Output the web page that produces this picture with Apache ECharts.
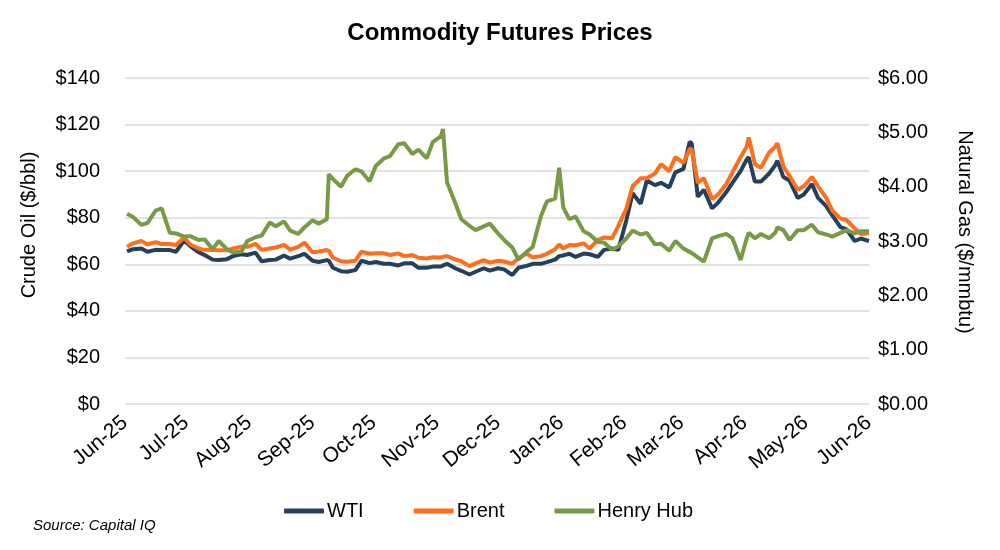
<!DOCTYPE html>
<html>
<head>
<meta charset="UTF-8">
<title>Commodity Futures Prices</title>
<script src="https://cdn.jsdelivr.net/npm/echarts@6/dist/echarts.min.js"></script>
<style>
    html, body { margin: 0; padding: 0; background: #fff; }
    #main { width: 1000px; height: 550px; }
</style>
</head>
<body>
<div id="main"></div>
<script type="text/javascript">
    // twice-weekly readings of the futures curves (plus a few extra days on the spikes)
    var dates = [
        '2025-06-02', '2025-06-05', '2025-06-09', '2025-06-12', '2025-06-16', '2025-06-19', '2025-06-23', '2025-06-26', '2025-06-30',
        '2025-07-03', '2025-07-07', '2025-07-10', '2025-07-14', '2025-07-17', '2025-07-21', '2025-07-24', '2025-07-28', '2025-07-31',
        '2025-08-04', '2025-08-07', '2025-08-11', '2025-08-14', '2025-08-18', '2025-08-21', '2025-08-25', '2025-08-28',
        '2025-09-01', '2025-09-04', '2025-09-08', '2025-09-09', '2025-09-11', '2025-09-15', '2025-09-18', '2025-09-22', '2025-09-25', '2025-09-29',
        '2025-10-02', '2025-10-06', '2025-10-09', '2025-10-13', '2025-10-16', '2025-10-20', '2025-10-23', '2025-10-27', '2025-10-30',
        '2025-11-03', '2025-11-04', '2025-11-06', '2025-11-10', '2025-11-13', '2025-11-17', '2025-11-20', '2025-11-24', '2025-11-27',
        '2025-12-01', '2025-12-04', '2025-12-08', '2025-12-11', '2025-12-15', '2025-12-18', '2025-12-22', '2025-12-25', '2025-12-29', '2025-12-31',
        '2026-01-02', '2026-01-05', '2026-01-08', '2026-01-12', '2026-01-15', '2026-01-19', '2026-01-22', '2026-01-26', '2026-01-29',
        '2026-02-02', '2026-02-05', '2026-02-09', '2026-02-12', '2026-02-16', '2026-02-19', '2026-02-23', '2026-02-26',
        '2026-03-02', '2026-03-05', '2026-03-06', '2026-03-09', '2026-03-12', '2026-03-16', '2026-03-19', '2026-03-23', '2026-03-26', '2026-03-30',
        '2026-04-02', '2026-04-03', '2026-04-06', '2026-04-09', '2026-04-13', '2026-04-16', '2026-04-17', '2026-04-20', '2026-04-23', '2026-04-27', '2026-04-30',
        '2026-05-04', '2026-05-07', '2026-05-11', '2026-05-14', '2026-05-18', '2026-05-21', '2026-05-25', '2026-05-28', '2026-06-01'
    ];

    var wti = [
        65.5, 66.5, 66.8, 65.4, 66.2, 66.1, 66.1, 65.4, 70.2,
        67.8, 65.2, 64.0, 62.0, 61.8, 62.2, 63.5, 64.3, 64.0,
        65.0, 61.3, 61.8, 62.0, 63.8, 62.4, 63.5, 64.5,
        61.5, 61.0, 61.8, 61.5, 58.5, 57.0, 56.8, 57.5, 61.5, 60.5,
        61.0, 60.2, 60.2, 59.5, 60.4, 60.4, 58.5, 58.5, 59.0,
        59.0, 59.5, 60.2, 58.3, 57.2, 55.6, 56.8, 58.3, 57.3,
        58.3, 57.8, 55.4, 58.5, 59.3, 60.2, 60.2, 60.9, 62.0, 63.5,
        63.8, 64.5, 63.2, 64.6, 64.3, 63.2, 66.2, 66.8, 66.2,
        79.0, 90.5, 86.0, 96.0, 94.0, 95.0, 93.0, 99.5,
        101.0, 112.5, 112.0, 89.0, 92.0, 84.0, 86.5, 91.0, 95.0, 100.0,
        105.0, 106.0, 95.5, 95.5, 99.0, 102.5, 104.5, 97.5, 96.0, 88.5, 90.0,
        94.5, 88.5, 85.0, 81.0, 76.0, 75.0, 70.0, 71.0, 70.0
    ];

    var brent = [
        67.5, 69.0, 70.0, 68.5, 69.5, 68.7, 68.7, 68.3, 71.5,
        68.5, 66.8, 66.2, 66.1, 66.0, 66.0, 66.8, 67.5, 67.5,
        68.8, 66.2, 66.8, 67.2, 68.3, 66.3, 67.5, 69.3,
        65.2, 65.5, 66.1, 65.8, 62.8, 61.3, 61.1, 61.5, 65.4, 64.5,
        64.7, 64.7, 64.0, 64.7, 63.5, 64.0, 62.8, 62.5, 63.0,
        62.9, 63.2, 63.5, 62.1, 61.3, 59.2, 60.4, 61.8, 60.7,
        61.5, 61.2, 60.2, 62.6, 64.5, 63.0, 63.5, 64.5, 66.5, 68.5,
        66.8, 68.3, 68.2, 69.0, 66.8, 70.5, 71.5, 71.2, 76.5,
        84.0, 93.5, 97.0, 97.0, 99.0, 103.0, 100.0, 106.0,
        103.5, 109.5, 109.5, 95.0, 97.0, 88.0, 90.0, 94.5, 99.5, 106.0,
        110.5, 114.5, 103.0, 101.5, 108.0, 110.5, 112.0, 102.0, 98.0, 92.0, 93.5,
        97.5, 93.5, 88.5, 83.0, 79.7, 79.0, 75.4, 73.0, 73.3
    ];

    var henryHub = [
        3.50, 3.44, 3.30, 3.33, 3.56, 3.60, 3.15, 3.14, 3.08,
        3.09, 3.02, 3.03, 2.85, 3.00, 2.85, 2.79, 2.80, 3.00,
        3.07, 3.10, 3.34, 3.27, 3.36, 3.19, 3.13, 3.25,
        3.38, 3.32, 3.40, 4.23, 4.14, 4.00, 4.20, 4.32, 4.28, 4.10,
        4.38, 4.52, 4.56, 4.78, 4.80, 4.60, 4.68, 4.52, 4.82,
        4.93, 5.06, 4.08, 3.70, 3.40, 3.28, 3.20, 3.27, 3.32,
        3.14, 3.02, 2.88, 2.66, 2.80, 2.89, 3.45, 3.73, 3.78, 4.35,
        3.62, 3.40, 3.45, 3.18, 3.12, 2.98, 2.97, 2.84, 2.90,
        3.05, 3.19, 3.12, 3.15, 2.94, 2.95, 2.82, 3.00,
        2.86, 2.80, 2.78, 2.70, 2.62, 3.05, 3.09, 3.13, 3.05, 2.65,
        3.05, 3.15, 3.05, 3.13, 3.05, 3.15, 3.25, 3.20, 3.02, 3.20, 3.20,
        3.30, 3.16, 3.12, 3.08, 3.15, 3.20, 3.14, 3.18, 3.18
    ];

    var monthTicks = [
        '2025-06-01', '2025-07-01', '2025-08-01', '2025-09-01', '2025-10-01', '2025-11-01', '2025-12-01',
        '2026-01-01', '2026-02-01', '2026-03-01', '2026-04-01', '2026-05-01', '2026-06-01'
    ];
    var monthLabels = ['Jun-25', 'Jul-25', 'Aug-25', 'Sep-25', 'Oct-25', 'Nov-25', 'Dec-25',
        'Jan-26', 'Feb-26', 'Mar-26', 'Apr-26', 'May-26', 'Jun-26'];

    function toTime(s) {
        var p = s.split('-');
        return new Date(+p[0], +p[1] - 1, +p[2]).getTime();
    }

    var tickTimes = monthTicks.map(toTime);

    function pairs(values) {
        return dates.map(function (d, i) { return [toTime(d), values[i]]; });
    }

    var font = "'Liberation Sans', Arial, Helvetica, sans-serif";

    var myChart = echarts.init(document.getElementById('main'));

    myChart.setOption({
        backgroundColor: '#fff',
        textStyle: { fontFamily: font, color: '#000' },
        animation: false,
        title: {
            text: 'Commodity Futures Prices',
            left: 'center',
            top: 16,
            textStyle: { fontFamily: font, fontSize: 24, fontWeight: 'bold', color: '#000' }
        },
        legend: {
            bottom: 24,
            left: 279,
            icon: 'roundRect',
            itemWidth: 40,
            itemHeight: 5,
            itemGap: 50,
            textStyle: { fontFamily: font, fontSize: 20, color: '#000', padding: [0, 0, 0, -2] },
            data: ['WTI', 'Brent', 'Henry Hub']
        },
        graphic: [{
            type: 'text',
            left: 33,
            top: 518,
            style: { text: 'Source: Capital IQ', fontFamily: font, fontSize: 15, fontStyle: 'italic', fill: '#000' }
        }],
        grid: { left: 125, right: 131, top: 78, bottom: 146 },
        xAxis: {
            type: 'value',
            min: tickTimes[0],
            max: tickTimes[tickTimes.length - 1],
            axisLine: { show: false },
            axisTick: { show: false },
            splitLine: { show: false },
            axisLabel: {
                customValues: tickTimes,
                rotate: 40,
                margin: 16,
                fontSize: 21,
                fontFamily: font,
                color: '#000',
                formatter: function (val) {
                    var best = 0;
                    for (var i = 1; i < tickTimes.length; i++) {
                        if (Math.abs(tickTimes[i] - val) < Math.abs(tickTimes[best] - val)) best = i;
                    }
                    return monthLabels[best];
                }
            }
        },
        yAxis: [{
            type: 'value',
            min: 0,
            max: 140,
            interval: 20,
            name: 'Crude Oil ($/bbl)',
            nameLocation: 'middle',
            nameGap: 86,
            nameTextStyle: { fontFamily: font, fontSize: 20, color: '#000', padding: [0, 0, 0, 32] },
            axisLine: { show: false },
            axisTick: { show: false },
            axisLabel: { margin: 25, fontSize: 20, color: '#000', formatter: '${value}' },
            splitLine: { lineStyle: { color: '#d9d9d9', width: 1.5 } }
        }, {
            type: 'value',
            min: 0,
            max: 6,
            interval: 1,
            name: 'Natural Gas ($/mmbtu)',
            nameLocation: 'middle',
            nameGap: 86,
            nameRotate: -90,
            nameTextStyle: { fontFamily: font, fontSize: 20, color: '#000', padding: [0, 18, 0, 0] },
            axisLine: { show: false },
            axisTick: { show: false },
            axisLabel: {
                margin: 9, fontSize: 20, color: '#000',
                formatter: function (v) { return '$' + v.toFixed(2); }
            },
            splitLine: { show: false }
        }],
        series: [{
            name: 'WTI',
            type: 'line',
            yAxisIndex: 0,
            showSymbol: false,
            data: pairs(wti),
            lineStyle: { color: '#253F5E', width: 4 },
            itemStyle: { color: '#253F5E' }
        }, {
            name: 'Brent',
            type: 'line',
            yAxisIndex: 0,
            showSymbol: false,
            data: pairs(brent),
            lineStyle: { color: '#FF6E1B', width: 4 },
            itemStyle: { color: '#FF6E1B' }
        }, {
            name: 'Henry Hub',
            type: 'line',
            yAxisIndex: 1,
            showSymbol: false,
            data: pairs(henryHub),
            lineStyle: { color: '#789A46', width: 4 },
            itemStyle: { color: '#789A46' }
        }]
    });
</script>
</body>
</html>
